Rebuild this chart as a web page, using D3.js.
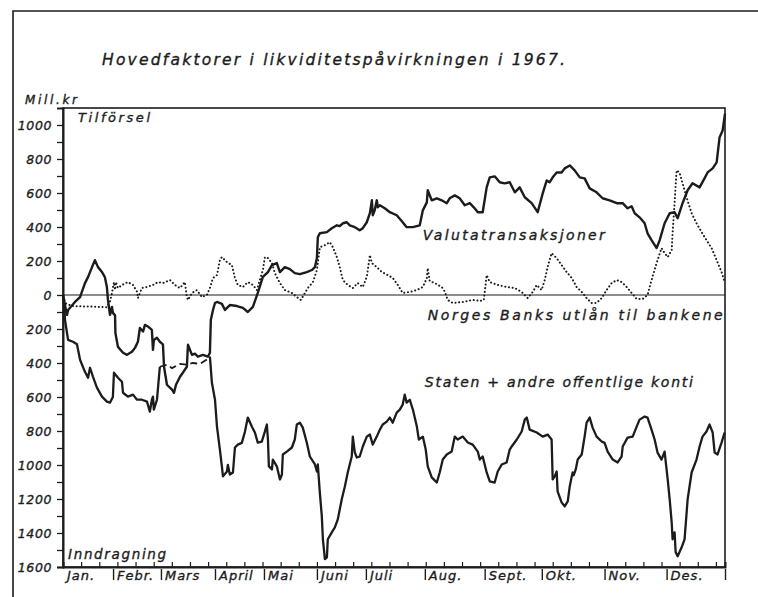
<!DOCTYPE html>
<html>
<head>
<meta charset="utf-8">
<script src="https://cdn.jsdelivr.net/npm/d3@7"></script>
<style>
  body { margin: 0; background: #fff; }
  svg text { font-family: "DejaVu Sans", sans-serif; font-style: italic; fill: #1c1c1c; stroke: #1c1c1c; stroke-width: 0.35px; }
</style>
</head>
<body>
<div id="chart"></div>
<script>
// month labels and where each month starts on the hand-drawn axis (day units)
const months = ["Jan.", "Febr.", "Mars", "April", "Mai", "Juni", "Juli", "Aug.", "Sept.", "Okt.", "Nov.", "Des."];
const monthStarts = [0, 27.6, 54.0, 83.8, 110.8, 140.0, 167.0, 199.5, 232.5, 264.0, 298.6, 332.8];
const yTicks = [-1600, -1400, -1200, -1000, -800, -600, -400, -200, 0, 200, 400, 600, 800, 1000];

// [day, mill. kr]
const valuta = [
  [0,0],[1.1,-60],[2.2,-117],[2.8,-88],[6.6,-41],[9.4,-12],[12.1,70],[13.8,105],[16.0,164],[17.6,205],
  [19.3,164],[21.5,135],[23.1,105],[24.2,47],[24.8,-29],[25.9,-117],[27.0,-70],[27.5,-105],[28.7,-120],[28.9,-223],
  [30.3,-305],[33.1,-340],[35.3,-352],[38.0,-334],[39.7,-311],[41.3,-275],[42.4,-194],[44.1,-215],[45.2,-176],[46.8,-185],
  [49.0,-205],[49.6,-323],[50.1,-265],[51.8,-252],[53.4,-275],[55.1,-290],[55.7,-422],[57.3,-528],[60.1,-557],[61.2,-575],
  [62.3,-528],[64.5,-481],[66.1,-457],[68.3,-422],[68.9,-293],[71.1,-352],[72.7,-345],[74.4,-363],[77.1,-352],[79.9,-363],
  [81.0,-340],[81.5,-147],[82.7,-88],[83.8,-47],[84.9,-41],[87.6,-52],[89.3,-88],[92.0,-59],[95.9,-65],[99.2,-76],
  [101.9,-100],[104.7,-70],[107.4,12],[110.2,106],[113.0,135],[115.2,176],[117.9,188],[119.6,135],[122.3,164],[125.1,152],
  [127.8,129],[130.6,123],[134.4,135],[137.2,147],[138.9,164],[140.0,217],[140.5,340],[141.6,363],[145.5,370],[148.2,393],
  [151.0,410],[152.6,405],[154.3,422],[156.5,428],[158.1,410],[160.9,399],[163.6,381],[165.3,393],[167.5,428],[169.2,481],
  [170.3,557],[170.8,469],[171.9,500],[173.0,557],[173.6,516],[174.7,528],[177.4,510],[180.2,487],[184.0,469],[187.3,428],
  [189.5,399],[192.9,399],[196.7,410],[198.4,498],[200.6,545],[201.1,616],[203.3,557],[206.1,569],[208.8,557],[211.6,540],
  [213.2,569],[216.0,586],[218.7,569],[221.5,528],[224.3,540],[227.0,510],[228.7,487],[231.4,487],[233.6,633],[235.3,692],
  [238.0,698],[240.8,663],[243.5,657],[246.3,663],[249.1,604],[251.8,633],[254.6,575],[258.4,540],[261.7,487],[264.5,598],
  [266.7,674],[268.3,663],[270.0,692],[272.2,721],[274.9,721],[276.6,745],[279.4,762],[282.1,733],[284.9,692],[287.6,686],
  [290.4,627],[294.2,604],[297.5,569],[301.4,557],[305.3,540],[308.6,540],[311.3,510],[313.5,522],[315.2,481],[317.9,457],
  [320.7,422],[322.3,363],[324.5,323],[327.3,276],[329.0,323],[331.7,422],[334.5,481],[337.2,487],[338.9,452],[341.6,540],
  [344.4,616],[347.1,657],[351.0,633],[353.7,686],[355.4,721],[358.2,745],[360.4,780],[362.0,927],[363.7,968],[365,1067]
];

const norges = [
  [0,-10],[1.7,-50],[5.0,-65],[14.9,-68],[24.2,-72],[25.9,-40],[27.0,12],[28.1,76],[28.7,30],[29.2,76],
  [30.3,41],[32.5,59],[35.8,76],[38.6,59],[40.8,20],[41.3,-18],[43.5,41],[46.3,47],[49.6,59],[52.3,76],
  [55.1,70],[59.0,88],[61.7,59],[64.5,41],[67.2,76],[68.3,-12],[68.9,-29],[71.1,12],[73.8,29],[76.6,-12],
  [79.3,0],[81.0,41],[82.7,100],[84.9,117],[86.5,205],[87.6,223],[90.4,193],[93.1,176],[94.8,100],[96.4,59],
  [99.2,47],[101.9,76],[104.7,59],[106.9,29],[108.5,88],[110.2,147],[111.3,223],[113.0,217],[115.2,188],[116.8,129],
  [119.6,70],[122.3,29],[126.2,12],[128.9,-12],[131.1,-29],[132.2,-10],[135.0,41],[137.8,76],[140.0,147],[141.6,281],
  [144.4,293],[147.1,311],[148.8,281],[151.0,223],[152.6,164],[154.3,88],[157.0,59],[159.8,41],[162.5,70],[165.3,47],
  [167.5,106],[169.2,235],[170.3,188],[173.0,164],[175.8,135],[179.1,117],[181.8,100],[184.6,59],[187.3,12],[191.2,18],
  [195.1,29],[198.4,47],[200.6,100],[201.1,158],[202.2,82],[205.0,70],[208.8,47],[210.5,20],[212.1,-29],[214.9,-47],
  [220.4,-41],[225.9,-29],[229.8,-35],[232.0,-30],[233.6,117],[235.3,76],[239.7,59],[244.6,47],[249.1,41],[252.9,18],
  [256.2,-18],[259.0,18],[261.2,59],[263.9,29],[265.6,88],[267.2,164],[269.4,246],[272.2,217],[274.9,176],[277.7,135],
  [280.5,100],[283.2,47],[286.0,18],[288.7,-18],[291.5,-47],[294.2,-47],[297.0,-18],[299.7,29],[302.5,70],[305.3,88],
  [308.0,76],[310.8,47],[313.5,12],[316.3,-23],[319.6,-23],[322.3,0],[324.5,88],[327.3,188],[330.0,276],[331.7,246],
  [333.4,223],[335.6,264],[336.1,363],[337.2,540],[338.3,733],[339.9,721],[341.6,657],[343.8,575],[346.6,481],[349.3,422],
  [352.1,370],[354.8,323],[357.6,276],[360.4,205],[363.1,135],[364.8,76]
];

const staten = [
  [0,0],[0.6,-60],[1.1,-147],[2.8,-264],[5.5,-275],[7.7,-290],[9.4,-381],[12.1,-452],[13.8,-487],[14.9,-428],
  [16.5,-480],[18.7,-545],[21.5,-598],[24.2,-627],[25.9,-633],[27.5,-600],[28.1,-457],[30.3,-487],[32.5,-510],[33.1,-575],
  [35.8,-598],[38.6,-586],[40.8,-616],[43.5,-616],[46.3,-627],[47.9,-686],[49.0,-616],[49.6,-598],[50.1,-674],[51.8,-616],
  [52.3,-557],[53.4,-422],[57.3,-410],[60.1,-430],[64.5,-405],[68.3,-410],[71.6,-400],[75.5,-405],[79.3,-380],[81.0,-363],
  [82.1,-516],[83.8,-616],[84.9,-774],[86.5,-909],[87.6,-1008],[88.2,-1067],[90.4,-1038],[90.9,-1000],[92.0,-1056],[93.7,-1044],
  [94.8,-897],[96.4,-880],[98.6,-870],[100.3,-804],[101.9,-721],[104.1,-774],[105.8,-809],[107.4,-868],[109.6,-862],[111.3,-804],
  [112.4,-762],[113.0,-850],[113.5,-1008],[115.2,-1026],[115.7,-968],[117.9,-1008],[119.6,-1085],[120.7,-1056],[121.2,-938],[123.4,-921],
  [126.2,-897],[127.8,-850],[128.9,-762],[130.6,-751],[132.2,-780],[134.4,-868],[136.1,-950],[138.9,-997],[140.0,-1038],[140.5,-997],
  [141.6,-1161],[142.7,-1302],[143.3,-1437],[144.4,-1554],[145.5,-1543],[146.0,-1437],[148.2,-1396],[149.9,-1367],[151.5,-1320],[153.7,-1202],
  [155.4,-1126],[157.0,-1044],[159.2,-950],[159.8,-833],[160.9,-927],[162.0,-956],[163.6,-950],[165.3,-891],[167.5,-833],[169.2,-821],
  [170.8,-880],[173.0,-833],[174.7,-792],[176.3,-762],[178.5,-745],[180.2,-721],[181.8,-751],[184.0,-692],[185.7,-674],[187.3,-645],
  [188.4,-586],[189.5,-633],[191.2,-616],[192.9,-674],[195.1,-774],[196.2,-850],[198.4,-833],[200.0,-909],[201.1,-1008],[203.3,-1073],
  [206.1,-1103],[207.7,-1044],[209.4,-968],[211.6,-938],[214.3,-921],[216.0,-833],[217.6,-850],[220.4,-833],[223.2,-868],[225.9,-880],
  [228.7,-921],[229.8,-968],[231.4,-950],[233.6,-1044],[235.3,-1097],[238.0,-1103],[239.7,-1038],[241.9,-997],[244.6,-985],[246.3,-909],
  [247.4,-891],[250.2,-850],[252.9,-803],[254.6,-733],[255.7,-721],[257.3,-792],[261.2,-809],[264.5,-833],[267.2,-821],[269.4,-850],
  [270.0,-1085],[271.1,-1067],[272.2,-1038],[272.7,-1155],[274.9,-1220],[276.6,-1243],[278.3,-1214],[279.4,-1126],[280.5,-1067],[281.0,-1044],
  [281.6,-1060],[282.7,-1026],[283.8,-968],[286.0,-938],[287.6,-833],[288.7,-751],[290.4,-721],[292.0,-780],[294.2,-833],[297.0,-862],
  [298.6,-870],[300.3,-921],[303.1,-968],[305.8,-985],[308.0,-950],[308.6,-891],[311.3,-839],[314.1,-833],[316.3,-774],[317.9,-733],
  [320.7,-715],[322.3,-721],[324.5,-792],[326.2,-850],[327.8,-927],[330.0,-968],[331.7,-921],[333.4,-1085],[334.5,-1202],[335.6,-1337],
  [336.1,-1437],[337.2,-1396],[337.8,-1513],[338.9,-1537],[341.1,-1484],[342.7,-1437],[344.4,-1202],[346.6,-1044],[349.3,-968],[351.0,-891],
  [352.6,-833],[354.8,-803],[356.5,-762],[358.2,-809],[359.3,-927],[360.9,-938],[363.1,-868],[364.8,-809]
];

// stretch of the Staten curve drawn dashed (March)
const statenDashed = [53.4, 81.0];

const title = "Hovedfaktorer  i  likviditetspåvirkningen  i  1967.";
const seriesLabels = ["Valutatransaksjoner", "Norges Banks utlån til bankene", "Staten + andre offentlige konti"];

const width = 758, height = 597;
const ink = "#1c1c1c";

const svg = d3.select("#chart").append("svg")
  .attr("width", width)
  .attr("height", height);

const x = d3.scaleLinear().domain([0, 365]).range([63, 725]);
const y = d3.scaleLinear().domain([-1600, 1100]).range([567, 108]);

// outer frame of the page
svg.append("path")
  .attr("d", "M13,597V11H758")
  .attr("fill", "none")
  .attr("stroke", ink)
  .attr("stroke-width", 1.6);

// title
svg.append("text")
  .attr("x", 102).attr("y", 65)
  .attr("font-size", 15.5)
  .attr("textLength", 463)
  .attr("lengthAdjust", "spacing")
  .text(title);

svg.append("text")
  .attr("x", 25).attr("y", 104)
  .attr("font-size", 12)
  .attr("textLength", 52)
  .attr("lengthAdjust", "spacing")
  .text("Mill.kr");

// plot frame
svg.append("rect")
  .attr("x", x(0)).attr("y", y(1100))
  .attr("width", x(365) - x(0))
  .attr("height", y(-1600) - y(1100))
  .attr("fill", "none")
  .attr("stroke", ink)
  .attr("stroke-width", 1.6);

// zero line
svg.append("line")
  .attr("x1", x(0)).attr("x2", x(365))
  .attr("y1", y(0)).attr("y2", y(0))
  .attr("stroke", ink)
  .attr("stroke-width", 1);

// y axis
const yAxis = svg.append("g")
  .attr("transform", `translate(${x(0)},0)`)
  .call(d3.axisLeft(y)
    .tickValues(d3.range(-1600, 1001, 100))
    .tickSize(6)
    .tickPadding(5)
    .tickFormat(d => (d % 200 === 0 ? Math.abs(d) : "")));
yAxis.select(".domain").attr("stroke", ink).attr("stroke-width", 2);
yAxis.selectAll(".tick line").attr("stroke", ink).attr("stroke-width", 1.3);
yAxis.selectAll(".tick text")
  .attr("font-size", 12.5)
  .attr("letter-spacing", 0.6)
  .style("font-family", "'DejaVu Sans', sans-serif")
  .style("font-style", "italic")
  .attr("fill", ink);

// x axis: small upward ticks
const xTicks = svg.append("g")
  .attr("transform", `translate(0,${y(-1600)})`)
  .call(d3.axisBottom(x).tickValues(d3.range(10, 365, 10)).tickSize(-5).tickFormat(""));
xTicks.select(".domain").attr("stroke", ink).attr("stroke-width", 2);
xTicks.selectAll(".tick line").attr("stroke", ink).attr("stroke-width", 1.2);

// month separators below the axis
const sep = svg.append("g")
  .attr("transform", `translate(0,${y(-1600) + 2})`)
  .call(d3.axisBottom(x).tickValues(monthStarts.slice(1).concat([365])).tickSize(11).tickFormat(""));
sep.select(".domain").remove();
sep.selectAll(".tick line").attr("stroke", ink).attr("stroke-width", 1.4);

svg.append("g")
  .selectAll("text")
  .data(months)
  .join("text")
  .attr("x", (d, i) => x(monthStarts[i]) + 4)
  .attr("y", 580)
  .attr("font-size", 13)
  .attr("letter-spacing", 1)
  .text(d => d);

// series
const line = d3.line()
  .x(d => x(d[0]))
  .y(d => y(d[1]));

const part = (data, from, to) => data.filter(d => d[0] >= from && d[0] <= to);

svg.append("path")
  .datum(norges)
  .attr("fill", "none")
  .attr("stroke", ink)
  .attr("stroke-width", 2)
  .attr("stroke-linecap", "round")
  .attr("stroke-dasharray", "0.1 3.6")
  .attr("d", line);

[[0, statenDashed[0]], [statenDashed[1], 365]].forEach(r => {
  svg.append("path")
    .datum(part(staten, r[0], r[1]))
    .attr("fill", "none")
    .attr("stroke", ink)
    .attr("stroke-width", 2.3)
    .attr("stroke-linejoin", "round")
    .attr("d", line);
});

svg.append("path")
  .datum(part(staten, statenDashed[0], statenDashed[1]))
  .attr("fill", "none")
  .attr("stroke", ink)
  .attr("stroke-width", 1.8)
  .attr("stroke-dasharray", "7 4")
  .attr("d", line);

svg.append("path")
  .datum(valuta)
  .attr("fill", "none")
  .attr("stroke", ink)
  .attr("stroke-width", 2.4)
  .attr("stroke-linejoin", "round")
  .attr("d", line);

// annotations
const note = (txt, dx, vy, w, size) => svg.append("text")
  .attr("x", x(dx)).attr("y", y(vy))
  .attr("font-size", size)
  .attr("textLength", w)
  .attr("lengthAdjust", "spacing")
  .text(txt);

note("Tilförsel", 8.3, 1015, 72, 13);
note("Inndragning", 2.8, -1553, 98, 13.5);
note(seriesLabels[0], 198.4, 323, 182, 14);
note(seriesLabels[1], 201.1, -147, 295, 14);
note(seriesLabels[2], 199.5, -540, 268, 14);
</script>
</body>
</html>
